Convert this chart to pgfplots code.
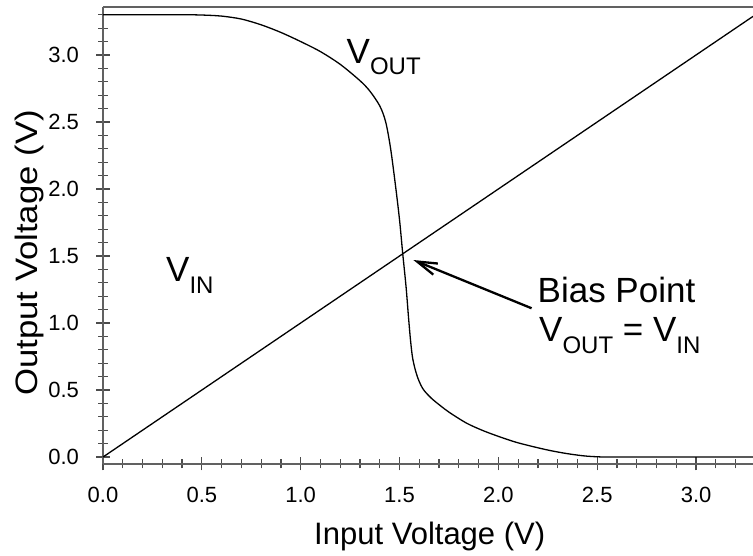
\documentclass[border=0pt]{standalone}
\usepackage{fontspec}
\setmainfont{Liberation Sans}
\usepackage{pgfplots}
\pgfplotsset{compat=1.18}
\usetikzlibrary{arrows.meta}

% large capital subscripts, as used for V_OUT and V_IN
\newcommand{\sub}[1]{\raisebox{-0.33em}{\fontsize{24}{24}\selectfont #1}}
\newcommand{\annfont}{\fontsize{35}{35}\selectfont}

\begin{document}
\begin{tikzpicture}[x=1pt,y=1pt]
\begin{axis}[
  at={(103pt,92pt)}, anchor=south west,
  scale only axis, width=650pt, height=457pt,
  xmin=0, xmax=3.288, ymin=-0.052, ymax=3.358,
  axis x line*=box, axis y line*=left,
  xtick pos=left, ytick pos=left,
  tick align=center,
  major tick length=13pt, minor tick length=9pt,
  xtick={0,0.5,1,1.5,2,2.5,3},
  xticklabels={0.0,0.5,1.0,1.5,2.0,2.5,3.0},
  ytick={0,0.5,1,1.5,2,2.5,3},
  yticklabels={0.0,0.5,1.0,1.5,2.0,2.5,3.0},
  minor xtick={0.1,0.2,0.3,0.4,0.6,0.7,0.8,0.9,1.1,1.2,1.3,1.4,1.6,1.7,1.8,1.9,2.1,2.2,2.3,2.4,2.6,2.7,2.8,2.9,3.1,3.2},
  minor ytick={0.1,0.2,0.3,0.4,0.6,0.7,0.8,0.9,1.1,1.2,1.3,1.4,1.6,1.7,1.8,1.9,2.1,2.2,2.3,2.4,2.6,2.7,2.8,2.9,3.1,3.2,3.3},
  axis line style={line width=1.6pt, draw=black!62},
  tick style={line width=1.2pt, draw=black!70},
  tick label style={font=\fontsize{22}{22}\selectfont, text=black},
  xticklabel style={yshift=-13pt},
  yticklabel style={xshift=-14pt},
  clip=false,
]
% input voltage (identity line)
\addplot[black, line width=1.3pt, mark=none] coordinates {(0,0) (3.288,3.288)};
% inverter output voltage
\addplot[black, line width=1.3pt, mark=none, smooth, tension=0.5] coordinates {
  (0.00,3.300) (0.40,3.300) (0.50,3.298) (0.60,3.290) (0.70,3.268)
  (0.80,3.225) (0.90,3.168) (1.00,3.100) (1.10,3.025) (1.20,2.930)
  (1.30,2.808) (1.35,2.730) (1.40,2.620) (1.43,2.500) (1.455,2.300)
  (1.48,2.020) (1.50,1.770) (1.516,1.520) (1.533,1.270) (1.545,1.050)
  (1.555,0.880) (1.565,0.750) (1.578,0.660) (1.595,0.580) (1.62,0.505)
  (1.66,0.440) (1.705,0.385) (1.755,0.330) (1.84,0.252) (1.924,0.196)
  (2.008,0.150) (2.09,0.110) (2.177,0.077) (2.26,0.049) (2.345,0.026)
  (2.43,0.009) (2.50,0.002) (2.60,0.000) (3.288,0.000)
};
\draw[black, line width=2.3pt, -{Straight Barb[length=20pt,width=12pt,line width=2.3pt]}]
  (axis cs:2.168,1.110) -- (axis cs:1.570,1.470);
\end{axis}

% annotations
\node[inner sep=0pt, anchor=base west] at (346.5,492.7) {\annfont V\sub{OUT}};
\node[inner sep=0pt, anchor=base west] at (166,274) {\annfont V\sub{IN}};
\node[inner sep=0pt, anchor=base west] at (537.5,253.3) {\annfont Bias Point};
\node[inner sep=0pt, anchor=base west] at (539,214.3) {\annfont V\sub{OUT} = V\sub{IN}};

% axis titles
\node[inner sep=0pt, anchor=base] at (429.7,11) {\fontsize{31}{31}\selectfont Input Voltage (V)};
\node[inner sep=0pt, anchor=base, rotate=90] at (37,303)
  {\scalebox{1.12}[1]{\fontsize{31}{31}\selectfont Output Voltage (V)}};

\pgfresetboundingbox
\useasboundingbox (0,0) rectangle (753,556);
\end{tikzpicture}
\end{document}
